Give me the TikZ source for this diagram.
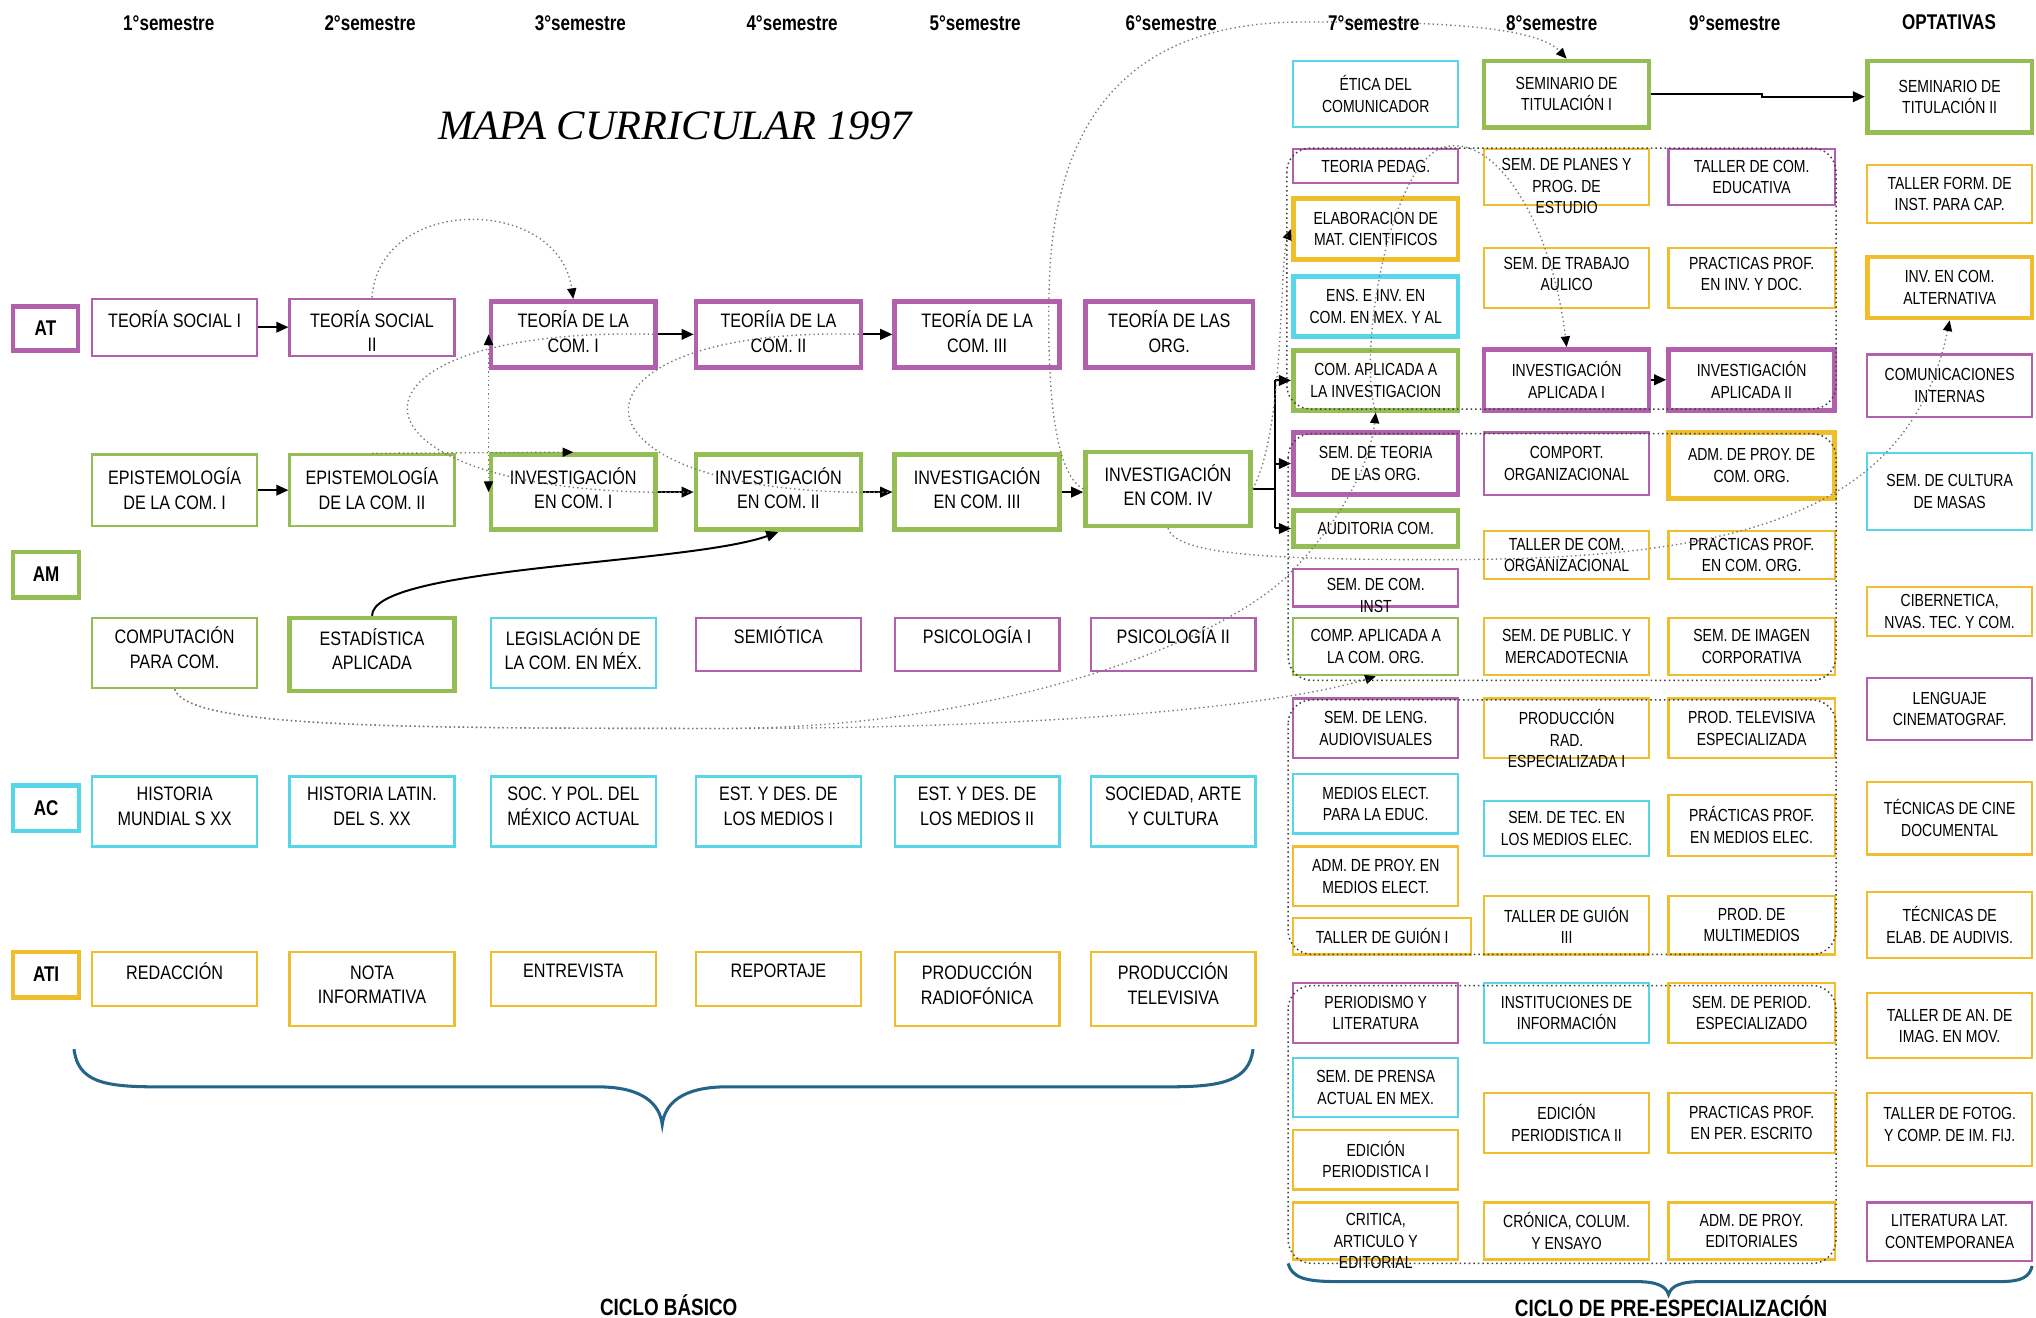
\documentclass[tikz,border=0pt]{standalone}
\usepackage{fontspec}
\usepackage{graphicx}
\setmainfont{Liberation Sans}
\newfontfamily\lfont{Liberation Sans}[FakeStretch=0.83]
\newfontfamily\rfont{Liberation Sans}[FakeStretch=0.80]
\newfontfamily\hdrfont{Liberation Sans}[FakeStretch=0.80]
\newfontfamily\titlefont{Liberation Serif}
\usetikzlibrary{arrows.meta}
\definecolor{pinkc}{RGB}{178,96,172}
\definecolor{greenc}{RGB}{148,190,84}
\definecolor{cyanc}{RGB}{86,214,230}
\definecolor{yellc}{RGB}{240,190,45}
\definecolor{bracec}{RGB}{35,100,135}
\definecolor{dotc}{RGB}{120,120,120}

\newcommand\mkbox[9]{%
 \node[#8, minimum width={(#6-#4)*0.03cm}, minimum height={(#7-#5)*0.03cm}] (#3) at ({(#4+#6)/2},{(#5+#7)/2}) {};
 \node[#1] (#3-t) at ({(#4+#6)/2},{(#5+#7)/2+(#2)}) {#9};}
\newcommand\lbox[8][0]{\mkbox{txtL}{#1}{#2}{#3}{#4}{#5}{#6}{#7}{#8}}
\newcommand\rbox[8][0]{\mkbox{txtR}{#1}{#2}{#3}{#4}{#5}{#6}{#7}{#8}}

\begin{document}
\begin{tikzpicture}[x=0.03cm,y=-0.03cm,
  bx/.style={draw, rectangle, inner sep=0pt, line width=1.5pt},
  thk/.style={line width=3pt},
  P/.style={bx, draw=pinkc}, G/.style={bx, draw=greenc},
  C/.style={bx, draw=cyanc}, Y/.style={bx, draw=yellc},
  txtL/.style={font={\lfont\fontsize{12.8}{16.2}\selectfont}, align=center, inner sep=0pt},
  txtR/.style={font={\rfont\fontsize{11.5}{14.1}\selectfont}, align=center, inner sep=0pt},
  lab/.style={font={\hdrfont\bfseries\fontsize{14}{16}\selectfont}, inner sep=0pt},
  hdr/.style={font={\hdrfont\bfseries\fontsize{14}{16}\selectfont}, inner sep=0pt},
  cyc/.style={font={\hdrfont\bfseries\fontsize{15.5}{18}\selectfont}, inner sep=0pt},
  sol/.style={draw=black, line width=1.3pt, -{Triangle[length=8pt,width=7pt]}},
  dline/.style={draw=dotc, dotted, line width=0.9pt},
  dcon/.style={dline, -{Triangle[length=7pt,width=6pt,color=black]}},
  grp/.style={draw=black!75, dotted, line width=1pt, rounded corners=0.55cm},
  brc/.style={draw=bracec, line width=2pt}
]
\useasboundingbox (0,0) rectangle (1568,1015);
\fill[white] (0,0) rectangle (1568,1015);

% headers
\node[hdr] (s1) at (130,18) {1°semestre};
\node[hdr] (s2) at (285,18) {2°semestre};
\node[hdr] (s3) at (447,18) {3°semestre};
\node[hdr] (s4) at (610,18) {4°semestre};
\node[hdr] (s5) at (751,18) {5°semestre};
\node[hdr] (s6) at (902,18) {6°semestre};
\node[hdr] (s7) at (1058,18) {7°semestre};
\node[hdr] (s8) at (1195,18) {8°semestre};
\node[hdr] (s9) at (1336,18) {9°semestre};
\node[hdr] (sopt) at (1501,17) {OPTATIVAS};

\node (title) at (520,97) {\resizebox{10.95cm}{0.64cm}{\titlefont\itshape MAPA CURRICULAR 1997}};

% row labels
\mkbox{lab}{0}{lAT}{10}{236}{60}{270}{P,thk}{AT}
\mkbox{lab}{0}{lAM}{10}{425}{61}{460}{G,thk}{AM}
\mkbox{lab}{0}{lAC}{10}{605}{61}{640}{C,thk}{AC}
\mkbox{lab}{0}{lATI}{10}{733}{61}{768}{Y,thk}{ATI}

% row AT
\lbox[-6]{ts1}{71}{230}{198}{274}{P}{TEORÍA SOCIAL I}
\lbox[3]{ts2}{223}{230}{350}{274}{P}{TEORÍA SOCIAL\\II}
\lbox[-2]{tc1}{378}{232}{505}{283}{P,thk}{TEORÍA DE LA\\COM. I}
\lbox[-2]{tc2}{536}{232}{663}{283}{P,thk}{TEORÍIA DE LA\\COM. II}
\lbox[-2]{tc3}{689}{232}{816}{283}{P,thk}{TEORÍA DE LA\\COM. III}
\lbox[-2]{tor}{836}{232}{965}{283}{P,thk}{TEORÍA DE LAS\\ORG.}
% row AM 1
\lbox[-1]{ep1}{71}{350}{198}{405}{G}{EPISTEMOLOGÍA\\DE LA COM. I}
\lbox[-1]{ep2}{223}{350}{350}{405}{G}{EPISTEMOLOGÍA\\DE LA COM. II}
\lbox[-3]{ic1}{378}{350}{505}{408}{G,thk}{INVESTIGACIÓN\\EN COM. I}
\lbox[-3]{ic2}{536}{350}{663}{408}{G,thk}{INVESTIGACIÓN\\EN COM. II}
\lbox[-3]{ic3}{689}{350}{816}{408}{G,thk}{INVESTIGACIÓN\\EN COM. III}
\lbox[-3]{ic4}{836}{348}{963}{405}{G,thk}{INVESTIGACIÓN\\EN COM. IV}
% row AM 2
\lbox[-4]{comp}{71}{476}{198}{530}{G}{COMPUTACIÓN\\PARA COM.}
\lbox[-4]{est}{223}{476}{350}{532}{G,thk}{ESTADÍSTICA\\APLICADA}
\lbox[-3]{leg}{378}{476}{505}{530}{C}{LEGISLACIÓN DE\\LA COM. EN MÉX.}
\lbox[-7]{semi}{536}{476}{663}{517}{P}{SEMIÓTICA}
\lbox[-7]{psa}{689}{476}{816}{517}{P}{PSICOLOGÍA I}
\lbox[-7]{psb}{840}{476}{967}{517}{P}{PSICOLOGÍA II}
% row AC
\lbox[-4]{hm}{71}{598}{198}{652}{C}{HISTORIA\\MUNDIAL S XX}
\lbox[-4]{hl}{223}{598}{350}{652}{C}{HISTORIA LATIN.\\DEL S. XX}
\lbox[-4]{spm}{378}{598}{505}{652}{C}{SOC. Y POL. DEL\\MÉXICO ACTUAL}
\lbox[-4]{eda}{536}{598}{663}{652}{C}{EST. Y DES. DE\\LOS MEDIOS I}
\lbox[-4]{edb}{689}{598}{816}{652}{C}{EST. Y DES. DE\\LOS MEDIOS II}
\lbox[-4]{sac}{840}{598}{967}{652}{C}{SOCIEDAD, ARTE\\Y CULTURA}
% row ATI
\lbox[-6]{red}{71}{733}{198}{775}{Y}{REDACCIÓN}
\lbox[-3]{nota}{223}{733}{350}{790}{Y}{NOTA\\INFORMATIVA}
\lbox[-6]{ent}{378}{733}{505}{775}{Y}{ENTREVISTA}
\lbox[-6]{rep}{536}{733}{663}{775}{Y}{REPORTAJE}
\lbox[-4]{prad}{689}{733}{816}{790}{Y}{PRODUCCIÓN\\RADIOFÓNICA}
\lbox[-4]{ptv}{840}{733}{967}{790}{Y}{PRODUCCIÓN\\TELEVISIVA}

% column 7
\rbox{eti}{996}{47}{1123}{98}{C}{ÉTICA DEL\\COMUNICADOR}
\rbox{tp}{996}{115}{1123}{141}{P}{TEORIA PEDAG.}
\rbox{elab}{996}{153}{1123}{200}{Y,thk}{ELABORACION DE\\MAT. CIENTIFICOS}
\rbox{ens}{996}{213}{1123}{259}{C,thk}{ENS. E INV. EN\\COM. EN MEX. Y AL}
\rbox{cai}{996}{270}{1123}{316}{G,thk}{COM. APLICADA A\\LA INVESTIGACION}
\rbox{sto}{996}{333}{1123}{381}{P,thk}{SEM. DE TEORIA\\DE LAS ORG.}
\rbox{aud}{996}{393}{1123}{421}{G,thk}{AUDITORIA COM.}
\rbox[6]{sci}{996}{438}{1123}{467}{P}{SEM. DE COM.\\INST}
\rbox{cac}{996}{476}{1123}{520}{G}{COMP. APLICADA A\\LA COM. ORG.}
\rbox{sla}{996}{538}{1123}{584}{P}{SEM. DE LENG.\\AUDIOVISUALES}
\rbox{mee}{996}{596}{1123}{642}{C}{MEDIOS ELECT.\\PARA LA EDUC.}
\rbox{apm}{996}{652}{1123}{698}{Y}{ADM. DE PROY. EN\\MEDIOS ELECT.}
\rbox{tga}{996}{707}{1133}{735}{Y}{TALLER DE GUIÓN I}
\rbox{pyl}{996}{757}{1123}{803}{P}{PERIODISMO Y\\LITERATURA}
\rbox{spa}{996}{815}{1123}{860}{C}{SEM. DE PRENSA\\ACTUAL EN MEX.}
\rbox{epa}{996}{870}{1123}{916}{Y}{EDICIÓN\\PERIODISTICA I}
\rbox[8]{cri}{996}{926}{1123}{970}{Y}{CRITICA,\\ARTICULO Y\\EDITORIAL}

% column 8
\rbox{st1}{1143}{47}{1270}{98}{G,thk}{SEMINARIO DE\\TITULACIÓN I}
\rbox[7]{spl}{1143}{115}{1270}{158}{Y}{SEM. DE PLANES Y\\PROG. DE\\ESTUDIO}
\rbox[-3]{sta}{1143}{191}{1270}{237}{Y}{SEM. DE TRABAJO\\AULICO}
\rbox{ia1}{1143}{269}{1270}{316}{P,thk}{INVESTIGACIÓN\\APLICADA I}
\rbox{cor}{1143}{333}{1270}{381}{P}{COMPORT.\\ORGANIZACIONAL}
\rbox{tco}{1143}{409}{1270}{446}{Y}{TALLER DE COM.\\ORGANIZACIONAL}
\rbox{spu}{1143}{476}{1270}{520}{Y}{SEM. DE PUBLIC. Y\\MERCADOTECNIA}
\rbox[8]{pra}{1143}{538}{1270}{584}{Y}{PRODUCCIÓN\\RAD.\\ESPECIALIZADA I}
\rbox{stm}{1143}{617}{1270}{659}{C}{SEM. DE TEC. EN\\LOS MEDIOS ELEC.}
\rbox{tgc}{1143}{690}{1270}{735}{Y}{TALLER DE GUIÓN\\III}
\rbox{ins}{1143}{757}{1270}{803}{C}{INSTITUCIONES DE\\INFORMACIÓN}
\rbox{epb}{1143}{842}{1270}{888}{Y}{EDICIÓN\\PERIODISTICA II}
\rbox{cro}{1143}{926}{1270}{970}{Y}{CRÓNICA, COLUM.\\Y ENSAYO}

% column 9
\rbox{tce}{1285}{115}{1413}{158}{P}{TALLER DE COM.\\EDUCATIVA}
\rbox[-3]{ppi}{1285}{191}{1413}{237}{Y}{PRACTICAS PROF.\\EN INV. Y DOC.}
\rbox{ia2}{1285}{269}{1413}{316}{P,thk}{INVESTIGACIÓN\\APLICADA II}
\rbox{apo}{1285}{333}{1413}{384}{Y,thk}{ADM. DE PROY. DE\\COM. ORG.}
\rbox{ppo}{1285}{409}{1413}{446}{Y}{PRACTICAS PROF.\\EN COM. ORG.}
\rbox{sic}{1285}{476}{1413}{520}{Y}{SEM. DE IMAGEN\\CORPORATIVA}
\rbox{ptx}{1285}{538}{1413}{584}{Y}{PROD. TELEVISIVA\\ESPECIALIZADA}
\rbox{ppm}{1285}{612}{1413}{659}{Y}{PRÁCTICAS PROF.\\EN MEDIOS ELEC.}
\rbox{pmu}{1285}{690}{1413}{735}{Y}{PROD. DE\\MULTIMEDIOS}
\rbox{spe}{1285}{757}{1413}{803}{Y}{SEM. DE PERIOD.\\ESPECIALIZADO}
\rbox{ppe}{1285}{842}{1413}{888}{Y}{PRACTICAS PROF.\\EN PER. ESCRITO}
\rbox{ape}{1285}{926}{1413}{970}{Y}{ADM. DE PROY.\\EDITORIALES}

% optativas
\rbox{st2}{1438}{47}{1565}{102}{G,thk}{SEMINARIO DE\\TITULACIÓN II}
\rbox{tfi}{1438}{127}{1565}{172}{Y}{TALLER FORM. DE\\INST. PARA CAP.}
\rbox{alt}{1438}{198}{1565}{245}{Y,thk}{INV. EN COM.\\ALTERNATIVA}
\rbox{cin}{1438}{273}{1565}{321}{P}{COMUNICACIONES\\INTERNAS}
\rbox{scm}{1438}{349}{1565}{408}{C}{SEM. DE CULTURA\\DE MASAS}
\rbox{cib}{1438}{452}{1565}{490}{Y}{CIBERNETICA,\\NVAS. TEC. Y COM.}
\rbox{lci}{1438}{522}{1565}{570}{P}{LENGUAJE\\CINEMATOGRAF.}
\rbox{tcd}{1438}{602}{1565}{658}{Y}{TÉCNICAS DE CINE\\DOCUMENTAL}
\rbox{tea}{1438}{687}{1565}{738}{Y}{TÉCNICAS DE\\ELAB. DE AUDIVIS.}
\rbox{tai}{1438}{765}{1565}{815}{Y}{TALLER DE AN. DE\\IMAG. EN MOV.}
\rbox[-4]{tfo}{1438}{842}{1565}{898}{Y}{TALLER DE FOTOG.\\Y COMP. DE IM. FIJ.}
\rbox{lit}{1438}{926}{1565}{971}{P}{LITERATURA LAT.\\CONTEMPORANEA}

% solid connectors
\draw[sol] (ts1.east) -- (ts2.west);
\draw[sol] (ep1.east) -- (ep2.west);
\draw[sol] (tc1.east) -- (tc2.west);
\draw[sol] (tc2.east) -- (tc3.west);
\draw[sol] (ic1.east) -- (ic2.west);
\draw[sol] (ic2.east) -- (ic3.west);
\draw[sol] (ic3.east) -- (ic3.east -| ic4.west);
\draw[sol] (est.north) .. controls +(0,-38) and +(-70,25) .. (ic2.south);
\path (ic4.east) ++(17,0) coordinate (fk);
\draw[sol,-] (ic4.east) -- (fk);
\draw[sol,-] (fk |- cai.west) -- (fk |- aud.west);
\draw[sol] (fk |- cai.west) -- (cai.west);
\draw[sol] (fk |- sto.west) -- (sto.west);
\draw[sol] (fk |- aud.west) -- (aud.west);
\draw[sol] (st1.east) -- ++(85,0) |- (st2.west);
\draw[sol] (ia1.east) -- (ia2.west);

% dotted connectors
\draw[dcon] (ts2.north) .. controls (292,150) and (430,150) .. (tc1.north);
\draw[dline,{Triangle[length=7pt,width=6pt,color=black]}-{Triangle[length=7pt,width=6pt,color=black]}] (tc1.west) -- (ic1.west);
\draw[dcon] (ep2.north) -- (ic1.north);
\draw[dline] (tc1.east) .. controls (240,250) and (250,385) .. (ic2.west);
\draw[dline] (tc2.east) .. controls (420,250) and (420,385) .. (ic3.west);
\draw[dcon] (ic4.west) .. controls (812,365) and (806,300) .. (808,220) .. controls (812,80) and (880,18) .. (1000,17) .. controls (1120,16) and (1185,22) .. (st1.north);
\draw[dcon] (ic4.east) .. controls (990,330) and (985,200) .. (elab.west);
\draw[dcon] (cai.south) .. controls (1045,270) and (1070,130) .. (1110,114) .. controls (1150,100) and (1195,170) .. (ia1.north);
\draw[dcon] (comp.south) .. controls (145,560) and (300,561) .. (560,561) .. controls (800,561) and (980,545) .. (cac.south);
\draw[dcon] (comp.south) .. controls (145,560) and (300,561) .. (560,561) .. controls (760,560) and (930,500) .. (990,445) .. controls (1030,405) and (1055,360) .. (cai.south);
\draw[dcon] (ic4.south) .. controls (905,425) and (960,431) .. (1100,431) .. controls (1330,432) and (1470,400) .. (alt.south);

% groups
\draw[grp] (991,114) rectangle (1414,315);
\draw[grp] (992,334) rectangle (1414,524);
\draw[grp] (992,539) rectangle (1414,735);
\draw[grp] (992,759) rectangle (1414,973);

% braces
\draw[brc] (57,808) .. controls (60,833) and (80,837) .. (120,837) -- (460,837) .. controls (495,837) and (508,850) .. (510,866) .. controls (512,850) and (525,837) .. (560,837) -- (900,837) .. controls (940,837) and (962,833) .. (965,808);
\draw[brc] (992,973) .. controls (995,984) and (1005,987) .. (1030,987) -- (1260,987) .. controls (1275,987) and (1283,990) .. (1285,997) .. controls (1287,990) and (1295,987) .. (1310,987) -- (1540,987) .. controls (1558,987) and (1563,983) .. (1565,975);
\node[cyc] (cb) at (515,1005) {CICLO BÁSICO};
\node[cyc] (cpe) at (1287,1006) {CICLO DE PRE-ESPECIALIZACIÓN};
\end{tikzpicture}
\end{document}
